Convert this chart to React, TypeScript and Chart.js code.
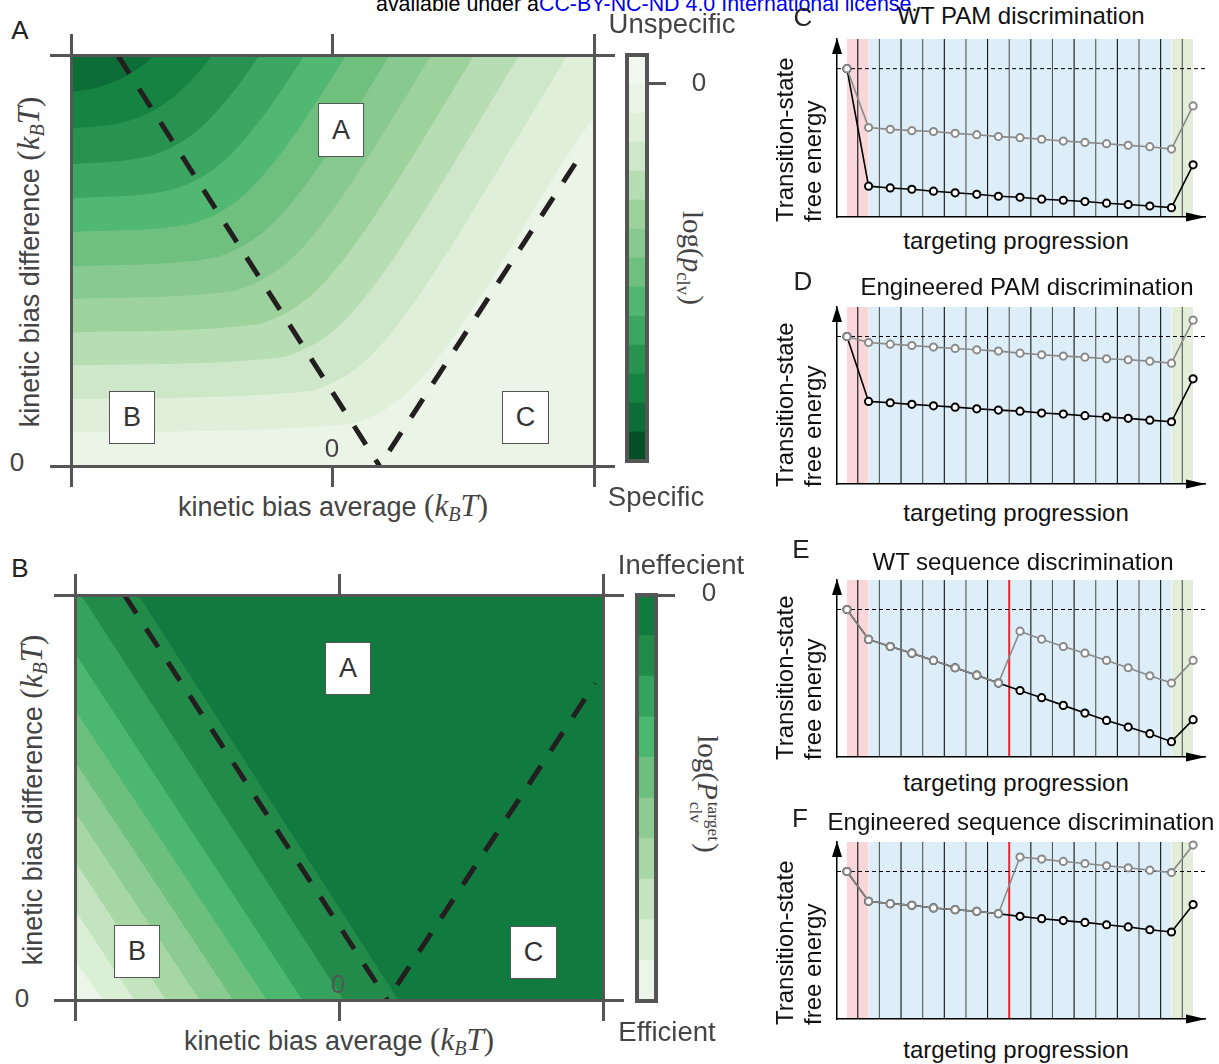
import React, { useEffect, useRef } from "react";
import { Chart, registerables } from "chart.js";

Chart.register(...registerables);

type XY = [number, number];

// ---------------- Panel A: boundaries between log(p_clv) levels (x: kinetic bias average, y: kinetic bias difference)
const pclvBoundary1: XY[] = [[-10, 9.1], [-9.07, 9.2], [-8.07, 9.43], [-7.57, 9.61], [-7.07, 9.84], [-6.79, 10]];
const pclvBoundary2: XY[] = [[-10, 8.21], [-8.03, 8.36], [-7.03, 8.59], [-6.53, 8.77], [-6.03, 9.0], [-5.53, 9.3], [-5.03, 9.65], [-4.58, 10]];
const pclvBoundary3: XY[] = [[-10, 7.34], [-7.19, 7.51], [-6.19, 7.74], [-5.69, 7.92], [-5.19, 8.15], [-4.69, 8.45], [-4.19, 8.8], [-3.69, 9.19], [-3.19, 9.63], [-2.79, 10]];
const pclvBoundary4: XY[] = [[-10, 6.51], [-6.3, 6.7], [-5.3, 6.93], [-4.8, 7.11], [-4.3, 7.34], [-3.8, 7.64], [-3.3, 7.99], [-2.3, 8.82], [-1.3, 9.77], [-1.07, 10]];
const pclvBoundary5: XY[] = [[-10, 5.69], [-5.52, 5.88], [-4.52, 6.11], [-4.02, 6.29], [-3.52, 6.52], [-3.02, 6.82], [-2.52, 7.17], [-1.52, 8.0], [-0.52, 8.95], [0.52, 10]];
const pclvBoundary6: XY[] = [[-10, 4.86], [-4.65, 5.05], [-3.65, 5.28], [-3.15, 5.46], [-2.65, 5.69], [-2.15, 5.99], [-1.65, 6.34], [-0.65, 7.17], [0.35, 8.12], [1.35, 9.13], [2.18, 10]];
const pclvBoundary7: XY[] = [[-10, 4.07], [-3.82, 4.26], [-2.82, 4.49], [-2.32, 4.67], [-1.82, 4.9], [-1.32, 5.2], [-0.82, 5.55], [0.18, 6.38], [1.18, 7.33], [2.18, 8.34], [3.77, 10]];
const pclvBoundary8: XY[] = [[-10, 3.25], [-2.95, 3.44], [-1.95, 3.67], [-1.45, 3.85], [-0.95, 4.08], [-0.45, 4.38], [0.05, 4.73], [1.05, 5.56], [2.05, 6.51], [3.05, 7.52], [5.42, 10]];
const pclvBoundary9: XY[] = [[-10, 2.45], [-1.98, 2.64], [-0.98, 2.87], [-0.48, 3.05], [0.02, 3.28], [0.52, 3.58], [1.02, 3.93], [2.02, 4.76], [3.02, 5.71], [4.02, 6.72], [7.14, 10]];
const pclvBoundary10: XY[] = [[-10, 1.63], [-0.92, 1.82], [0.08, 2.05], [0.58, 2.23], [1.08, 2.46], [1.58, 2.76], [2.08, 3.11], [3.08, 3.94], [4.08, 4.89], [5.08, 5.9], [8.98, 10]];
const pclvBoundary11: XY[] = [[-10, 0.82], [0.62, 1.01], [1.62, 1.24], [2.12, 1.42], [2.62, 1.65], [3.12, 1.95], [3.62, 2.3], [4.62, 3.13], [5.62, 4.08], [6.62, 5.09], [8.62, 7.19], [10, 8.5]];
const pclvFloor: XY[] = [[-10, 0], [10, 0]];

// ---------------- Panel B: boundaries between log(P_clv^target) levels
const ptargetBoundary1: XY[] = [[-10, 0.97], [-8.92, 0]];
const ptargetBoundary2: XY[] = [[-10, 2.22], [-7.75, 0]];
const ptargetBoundary3: XY[] = [[-10, 3.42], [-6.55, 0]];
const ptargetBoundary4: XY[] = [[-10, 4.65], [-5.28, 0]];
const ptargetBoundary5: XY[] = [[-10, 5.88], [-4.01, 0]];
const ptargetBoundary6: XY[] = [[-10, 7.16], [-2.73, 0]];
const ptargetBoundary7: XY[] = [[-10, 8.56], [-1.39, 0]];
const ptargetBoundary8: XY[] = [[-10, 10], [-9.77, 10], [0.18, 0]];
const ptargetBoundary9: XY[] = [[-10, 10], [-7.6, 10], [2.25, 0]];
const ptargetCeiling: XY[] = [[-10, 10], [10, 10]];

// ---------------- Regime boundaries (dashed)
const regimeA_left: XY[] = [[-8.22, 10], [1.8, 0]];
const regimeA_right: XY[] = [[1.8, 0], [9.62, 7.69]];
const regimeB_left: XY[] = [[-8.13, 10], [1.83, 0]];
const regimeB_right: XY[] = [[1.83, 0], [9.7, 7.82]];

// ---------------- Colour bars
const pclvColorbarSteps = [1, 1, 1, 1, 1, 1, 1, 1, 1, 1, 1, 1, 1, 1];
const pclvZeroLevel = 13;
const ptargetColorbarSteps = [1, 1, 1, 1, 1, 1, 1, 1, 1, 1];
const ptargetZeroLevel = 10;

// ---------------- Panels C-F: transition-state free energy along targeting progression
const wtPamGray = [1.0, 0.603, 0.591, 0.582, 0.576, 0.564, 0.555, 0.542, 0.535, 0.524, 0.512, 0.503, 0.494, 0.483, 0.474, 0.458, 0.749];
const wtPamBlack = [1.0, 0.208, 0.196, 0.187, 0.174, 0.163, 0.153, 0.14, 0.133, 0.12, 0.113, 0.104, 0.093, 0.084, 0.074, 0.063, 0.352];
const engPamGray = [1.0, 0.959, 0.948, 0.939, 0.928, 0.919, 0.91, 0.901, 0.887, 0.876, 0.867, 0.86, 0.849, 0.842, 0.833, 0.819, 1.111];
const engPamBlack = [1.0, 0.56, 0.551, 0.54, 0.53, 0.521, 0.51, 0.501, 0.494, 0.481, 0.474, 0.463, 0.454, 0.445, 0.433, 0.422, 0.713];
const wtSeqGray = [1.0, 0.797, 0.749, 0.704, 0.655, 0.605, 0.555, 0.501, 0.853, 0.799, 0.749, 0.704, 0.655, 0.605, 0.551, 0.501, 0.655];
const wtSeqBlack = [1.0, 0.797, 0.749, 0.704, 0.655, 0.605, 0.555, 0.501, 0.451, 0.402, 0.35, 0.298, 0.248, 0.203, 0.158, 0.104, 0.253];
const engSeqGray = [1.0, 0.798, 0.782, 0.771, 0.753, 0.741, 0.73, 0.714, 1.098, 1.084, 1.068, 1.054, 1.039, 1.025, 1.009, 0.993, 1.179];
const engSeqBlack = [1.0, 0.798, 0.782, 0.771, 0.753, 0.741, 0.73, 0.714, 0.696, 0.68, 0.667, 0.655, 0.639, 0.624, 0.605, 0.59, 0.776];
const referenceLevel = 1.0;
const stageEdges = [0, 1, 15, 16];
const dividerPositions = [0.5, 1.5, 2.5, 3.5, 4.5, 5.5, 6.5, 7.5, 8.5, 9.5, 10.5, 11.5, 12.5, 13.5, 14.5, 15.5];
const mismatchDivider = 7.5;

// ---------------- Styles
const greensA = ["#f2f8f0", "#eaf5e7", "#dfefda", "#cde7c8", "#b6ddb3", "#9ed29c", "#87c991", "#6fc07e", "#50b872", "#3da663", "#289350", "#168343", "#0d6d36", "#044e28"];
const greensB = ["#ebf5e8", "#dbeed6", "#c3e4bf", "#a6d7a5", "#8ccb92", "#6dbf7e", "#4cb86f", "#35a25e", "#238b4a", "#117a3f"];
const stageColors = ["#f8d6da", "#ddeef9", "#e2eed9"];
const SANS = '"Liberation Sans", Arial, Helvetica, sans-serif';
const SERIF = '"Liberation Serif", "DejaVu Serif", serif';
const SPINE = "#555555";
const PX_MIN = -0.46;
const PX_MAX = 16.55;
const PY_MAX = 1.2;

const toPts = (d: XY[]) => d.map(([x, y]) => ({ x, y }));

function frameScale(position: string, min: number, max: number, step: number) {
  return {
    type: "linear",
    position,
    min,
    max,
    ticks: { display: false, stepSize: step },
    grid: { display: true, drawOnChartArea: false, drawTicks: true, tickLength: 21, lineWidth: 3, color: SPINE, z: 1 },
    border: { display: true, width: 3, color: SPINE, z: 1 },
  };
}

function contourConfig(regions: { data: XY[]; color: string }[], fillMode: string, smooth: boolean, dashes: XY[][]) {
  const datasets: any[] = [
    ...dashes.map((d, i) => ({
      data: toPts(d),
      borderColor: "#231f20",
      borderWidth: 5,
      borderDash: [22, 18],
      borderDashOffset: i === 1 ? 22 : 0,
      borderCapStyle: "butt",
      pointRadius: 0,
      fill: false,
      tension: 0,
    })),
    ...regions.map((r) => ({
      data: toPts(r.data),
      backgroundColor: r.color,
      borderColor: "rgba(0,0,0,0)",
      borderWidth: 0,
      pointRadius: 0,
      fill: fillMode,
      tension: 0,
      cubicInterpolationMode: smooth ? "monotone" : "default",
    })),
  ];
  return {
    type: "line",
    data: { datasets },
    options: {
      animation: false,
      responsive: false,
      devicePixelRatio: 1,
      events: [],
      layout: { padding: 0 },
      plugins: { legend: { display: false }, tooltip: { enabled: false } },
      scales: {
        x: frameScale("bottom", -10, 10, 10),
        x2: frameScale("top", -10, 10, 10),
        y: frameScale("left", 0, 10, 10),
        y2: frameScale("right", 0, 10, 10),
      },
    },
  };
}

const framePlugin = {
  id: "cbFrame",
  afterDatasetsDraw(chart: any) {
    const { ctx, chartArea } = chart;
    ctx.save();
    ctx.strokeStyle = SPINE;
    ctx.lineWidth = 4;
    ctx.strokeRect(chartArea.left, chartArea.top, chartArea.right - chartArea.left, chartArea.bottom - chartArea.top);
    ctx.restore();
  },
};

function colorbarConfig(colorsBottomToTop: string[], steps: number[], tickAt: number) {
  const total = steps.reduce((a, b) => a + b, 0);
  return {
    type: "bar",
    data: {
      labels: [""],
      datasets: colorsBottomToTop.map((c, i) => ({
        data: [steps[i]],
        backgroundColor: c,
        borderWidth: 0,
        barPercentage: 1,
        categoryPercentage: 1,
      })),
    },
    options: {
      animation: false,
      responsive: false,
      devicePixelRatio: 1,
      events: [],
      layout: { padding: 4 },
      plugins: { legend: { display: false }, tooltip: { enabled: false } },
      scales: {
        x: { stacked: true, display: false },
        y: { type: "linear", stacked: true, display: false, min: 0, max: total },
        y2: {
          type: "linear",
          position: "right",
          min: 0,
          max: total,
          ticks: { display: false },
          grid: { display: true, drawOnChartArea: false, drawTicks: true, tickLength: 19, lineWidth: 3, color: SPINE },
          border: { display: false },
          afterBuildTicks: (s: any) => {
            s.ticks = [{ value: tickAt }];
          },
        },
      },
    },
    plugins: [framePlugin],
  };
}

const arrowPlugin = {
  id: "axisArrows",
  afterDraw(chart: any) {
    const { ctx, chartArea } = chart;
    const { left, right, top, bottom } = chartArea;
    ctx.save();
    ctx.fillStyle = "#000";
    ctx.beginPath();
    ctx.moveTo(right + 1, bottom);
    ctx.lineTo(right - 19, bottom - 4.5);
    ctx.lineTo(right - 19, bottom + 4.5);
    ctx.closePath();
    ctx.fill();
    ctx.beginPath();
    ctx.moveTo(left, top - 1);
    ctx.lineTo(left - 5, top + 15);
    ctx.lineTo(left + 5, top + 15);
    ctx.closePath();
    ctx.fill();
    ctx.restore();
  },
};

function progressionConfig(gray: number[], black: number[], redDivider: number | null) {
  const series = (vals: number[], color: string) => ({
    data: vals.map((v, i) => ({ x: i, y: v })),
    borderColor: color,
    borderWidth: 1.6,
    pointRadius: 3.6,
    pointBorderWidth: 2,
    pointBorderColor: color,
    pointBackgroundColor: "#ffffff",
    fill: false,
    tension: 0,
    clip: false,
  });
  const bands = stageColors.map((c, i) => ({
    data: [
      { x: stageEdges[i], y: PY_MAX },
      { x: stageEdges[i + 1], y: PY_MAX },
    ],
    backgroundColor: c,
    borderColor: "rgba(0,0,0,0)",
    borderWidth: 0,
    pointRadius: 0,
    fill: "start",
  }));
  const dividers = dividerPositions.map((p, i) => ({
    data: [
      { x: p, y: 0 },
      { x: p, y: PY_MAX },
    ],
    borderColor: p === redDivider ? "#e8242b" : i % 2 === 0 ? "#111111" : "#555555",
    borderWidth: p === redDivider ? 2 : 1.1,
    pointRadius: 0,
    fill: false,
  }));
  const axis = {
    type: "linear",
    ticks: { display: false },
    grid: { display: false, drawTicks: false, tickLength: 0 },
    border: { display: true, color: "#000", width: 1.5, z: 1 },
  };
  return {
    type: "line",
    data: {
      datasets: [
        series(gray, "#8a8a8a"),
        series(black, "#000000"),
        {
          data: [
            { x: PX_MIN, y: referenceLevel },
            { x: PX_MAX, y: referenceLevel },
          ],
          borderColor: "#000",
          borderWidth: 1,
          borderDash: [4, 3],
          pointRadius: 0,
          fill: false,
        },
        ...dividers,
        ...bands,
      ],
    },
    options: {
      animation: false,
      responsive: false,
      devicePixelRatio: 1,
      events: [],
      layout: { padding: 10 },
      plugins: { legend: { display: false }, tooltip: { enabled: false } },
      scales: {
        x: { ...axis, min: PX_MIN, max: PX_MAX },
        y: { ...axis, min: 0, max: PY_MAX },
      },
    },
    plugins: [arrowPlugin],
  };
}

function ChartCanvas(props: { left: number; top: number; width: number; height: number; build: () => any }) {
  const ref = useRef<HTMLCanvasElement | null>(null);
  useEffect(() => {
    if (!ref.current) return;
    const chart = new Chart(ref.current, props.build());
    return () => chart.destroy();
  }, []);
  return (
    <canvas
      ref={ref}
      width={props.width}
      height={props.height}
      style={{ position: "absolute", left: props.left, top: props.top, width: props.width, height: props.height, display: "block" }}
    />
  );
}

function Label(props: {
  x: number;
  y: number;
  size: number;
  color?: string;
  rotate?: number;
  mode?: "center" | "up-from";
  family?: string;
  children: React.ReactNode;
}) {
  const mode = props.mode || "center";
  const style: React.CSSProperties = {
    position: "absolute",
    left: props.x,
    top: props.y,
    fontSize: props.size,
    color: props.color || "#222",
    fontFamily: props.family || SANS,
    whiteSpace: "nowrap",
    lineHeight: 1,
  };
  if (mode === "center") {
    style.transform = `translate(-50%,-50%) rotate(${props.rotate || 0}deg)`;
  } else {
    style.transform = "translate(0,-50%) rotate(-90deg)";
    style.transformOrigin = "0 50%";
  }
  return <div style={style}>{props.children}</div>;
}

function KbT() {
  return (
    <span style={{ fontFamily: SERIF, fontSize: "1.15em" }}>
      (<i>k</i>
      <sub style={{ fontSize: "0.65em", fontStyle: "italic", verticalAlign: "-0.25em" }}>B</sub>
      <i>T</i>)
    </span>
  );
}

function RegionBox(props: { x: number; y: number; w: number; h: number; text: string }) {
  return (
    <div
      style={{
        position: "absolute",
        left: props.x,
        top: props.y,
        width: props.w,
        height: props.h,
        boxSizing: "border-box",
        background: "#fff",
        border: "1.5px solid #555",
        display: "flex",
        alignItems: "center",
        justifyContent: "center",
        fontFamily: SANS,
        fontSize: 27,
        color: "#333",
      }}
    >
      {props.text}
    </div>
  );
}

function ProgressionTexts(props: { letter: string; lx: number; ly: number; title: string; tx: number; ty: number; bottom: number; xlabelY: number }) {
  return (
    <>
      <Label x={props.lx} y={props.ly} size={26} color="#222">{props.letter}</Label>
      <Label x={props.tx} y={props.ty} size={24} color="#111">{props.title}</Label>
      <Label x={785} y={props.bottom} size={24} color="#111" mode="up-from">Transition-state</Label>
      <Label x={813} y={props.bottom} size={24} color="#111" mode="up-from">free energy</Label>
      <Label x={1016} y={props.xlabelY} size={24} color="#111">targeting progression</Label>
    </>
  );
}

export default function App() {
  const pclvBoundaries = [pclvBoundary1, pclvBoundary2, pclvBoundary3, pclvBoundary4, pclvBoundary5, pclvBoundary6, pclvBoundary7, pclvBoundary8, pclvBoundary9, pclvBoundary10, pclvBoundary11, pclvFloor];
  const regionsA = pclvBoundaries.map((d, i) => ({ data: d, color: greensA[12 - i] }));
  const ptargetBoundaries = [ptargetBoundary1, ptargetBoundary2, ptargetBoundary3, ptargetBoundary4, ptargetBoundary5, ptargetBoundary6, ptargetBoundary7, ptargetBoundary8, ptargetBoundary9, ptargetCeiling];
  const regionsB = ptargetBoundaries.map((d, i) => ({ data: d, color: greensB[i] }));

  return (
    <div style={{ position: "absolute", left: 0, top: 0, width: 1219, height: 1064, background: "#fff", overflow: "hidden" }}>
      <ChartCanvas left={50} top={34} width={565} height={453} build={() => contourConfig(regionsA, "end", true, [regimeA_left, regimeA_right])} />
      <ChartCanvas left={54} top={574} width={570} height={447} build={() => contourConfig(regionsB, "start", false, [regimeB_left, regimeB_right])} />
      <ChartCanvas left={623} top={51} width={47} height={414} build={() => colorbarConfig([...greensA].reverse(), pclvColorbarSteps, pclvZeroLevel)} />
      <ChartCanvas left={633} top={591} width={46} height={414} build={() => colorbarConfig(greensB, ptargetColorbarSteps, ptargetZeroLevel)} />

      <ChartCanvas left={827} top={29} width={388} height={198} build={() => progressionConfig(wtPamGray, wtPamBlack, null)} />
      <ChartCanvas left={827} top={297} width={388} height={197} build={() => progressionConfig(engPamGray, engPamBlack, null)} />
      <ChartCanvas left={827} top={570} width={388} height={197} build={() => progressionConfig(wtSeqGray, wtSeqBlack, mismatchDivider)} />
      <ChartCanvas left={827} top={832} width={388} height={197} build={() => progressionConfig(engSeqGray, engSeqBlack, mismatchDivider)} />

      {/* header line */}
      <div style={{ position: "absolute", left: 376, top: -6, fontFamily: SANS, fontSize: 21.4, lineHeight: "21px", whiteSpace: "nowrap", color: "#000" }}>
        available under a<span style={{ color: "#0000ee" }}>CC-BY-NC-ND 4.0 International license</span>.
      </div>

      {/* Panel A texts */}
      <Label x={20} y={30} size={26} color="#222">A</Label>
      <Label x={30} y={262} size={27} color="#444" rotate={-90}>
        kinetic bias difference <KbT />
      </Label>
      <Label x={333} y={507} size={27} color="#444">
        kinetic bias average <KbT />
      </Label>
      <Label x={17} y={462} size={26} color="#444">0</Label>
      <Label x={332} y={448} size={26} color="#444">0</Label>
      <RegionBox x={318} y={103} w={46} h={54} text="A" />
      <RegionBox x={109} y={391} w={46} h={53} text="B" />
      <RegionBox x={502} y={391} w={47} h={53} text="C" />
      <Label x={672} y={24} size={27.5} color="#444">Unspecific</Label>
      <Label x={699} y={82} size={26} color="#444">0</Label>
      <Label x={656} y={497} size={27.5} color="#444">Specific</Label>
      <Label x={690} y={258} size={29} color="#444" rotate={90} family={SERIF}>
        log(<i>p</i>
        <sub style={{ fontSize: "0.65em" }}>clv</sub>)
      </Label>

      {/* Panel B texts */}
      <Label x={20} y={568} size={26} color="#222">B</Label>
      <Label x={33} y={800} size={27} color="#444" rotate={-90}>
        kinetic bias difference <KbT />
      </Label>
      <Label x={339} y={1041} size={27} color="#444">
        kinetic bias average <KbT />
      </Label>
      <Label x={22} y={998} size={26} color="#444">0</Label>
      <Label x={338} y={984} size={26} color="#555">0</Label>
      <RegionBox x={325} y={642} w={46} h={53} text="A" />
      <RegionBox x={114} y={925} w={46} h={53} text="B" />
      <RegionBox x={510} y={926} w={47} h={53} text="C" />
      <Label x={681} y={565} size={27.5} color="#444">Ineffecient</Label>
      <Label x={709} y={592} size={26} color="#444">0</Label>
      <Label x={667} y={1032} size={27.5} color="#444">Efficient</Label>
      <Label x={705} y={794} size={29} color="#444" rotate={90} family={SERIF}>
        log(<i>P</i>
        <span style={{ display: "inline-flex", flexDirection: "column", fontSize: "0.6em", lineHeight: 1.05, verticalAlign: "middle", margin: "0 2px" }}>
          <span>target</span>
          <span>clv</span>
        </span>
        )
      </Label>

      {/* Panels C-F texts */}
      <ProgressionTexts letter="C" lx={803} ly={17} title="WT PAM discrimination" tx={1021} ty={16} bottom={222} xlabelY={241} />
      <ProgressionTexts letter="D" lx={803} ly={281} title="Engineered PAM discrimination" tx={1027} ty={287} bottom={487} xlabelY={513} />
      <ProgressionTexts letter="E" lx={801} ly={549} title="WT sequence discrimination" tx={1023} ty={562} bottom={760} xlabelY={783} />
      <ProgressionTexts letter="F" lx={800} ly={818} title="Engineered sequence discrimination" tx={1021} ty={822} bottom={1025} xlabelY={1050} />
    </div>
  );
}
